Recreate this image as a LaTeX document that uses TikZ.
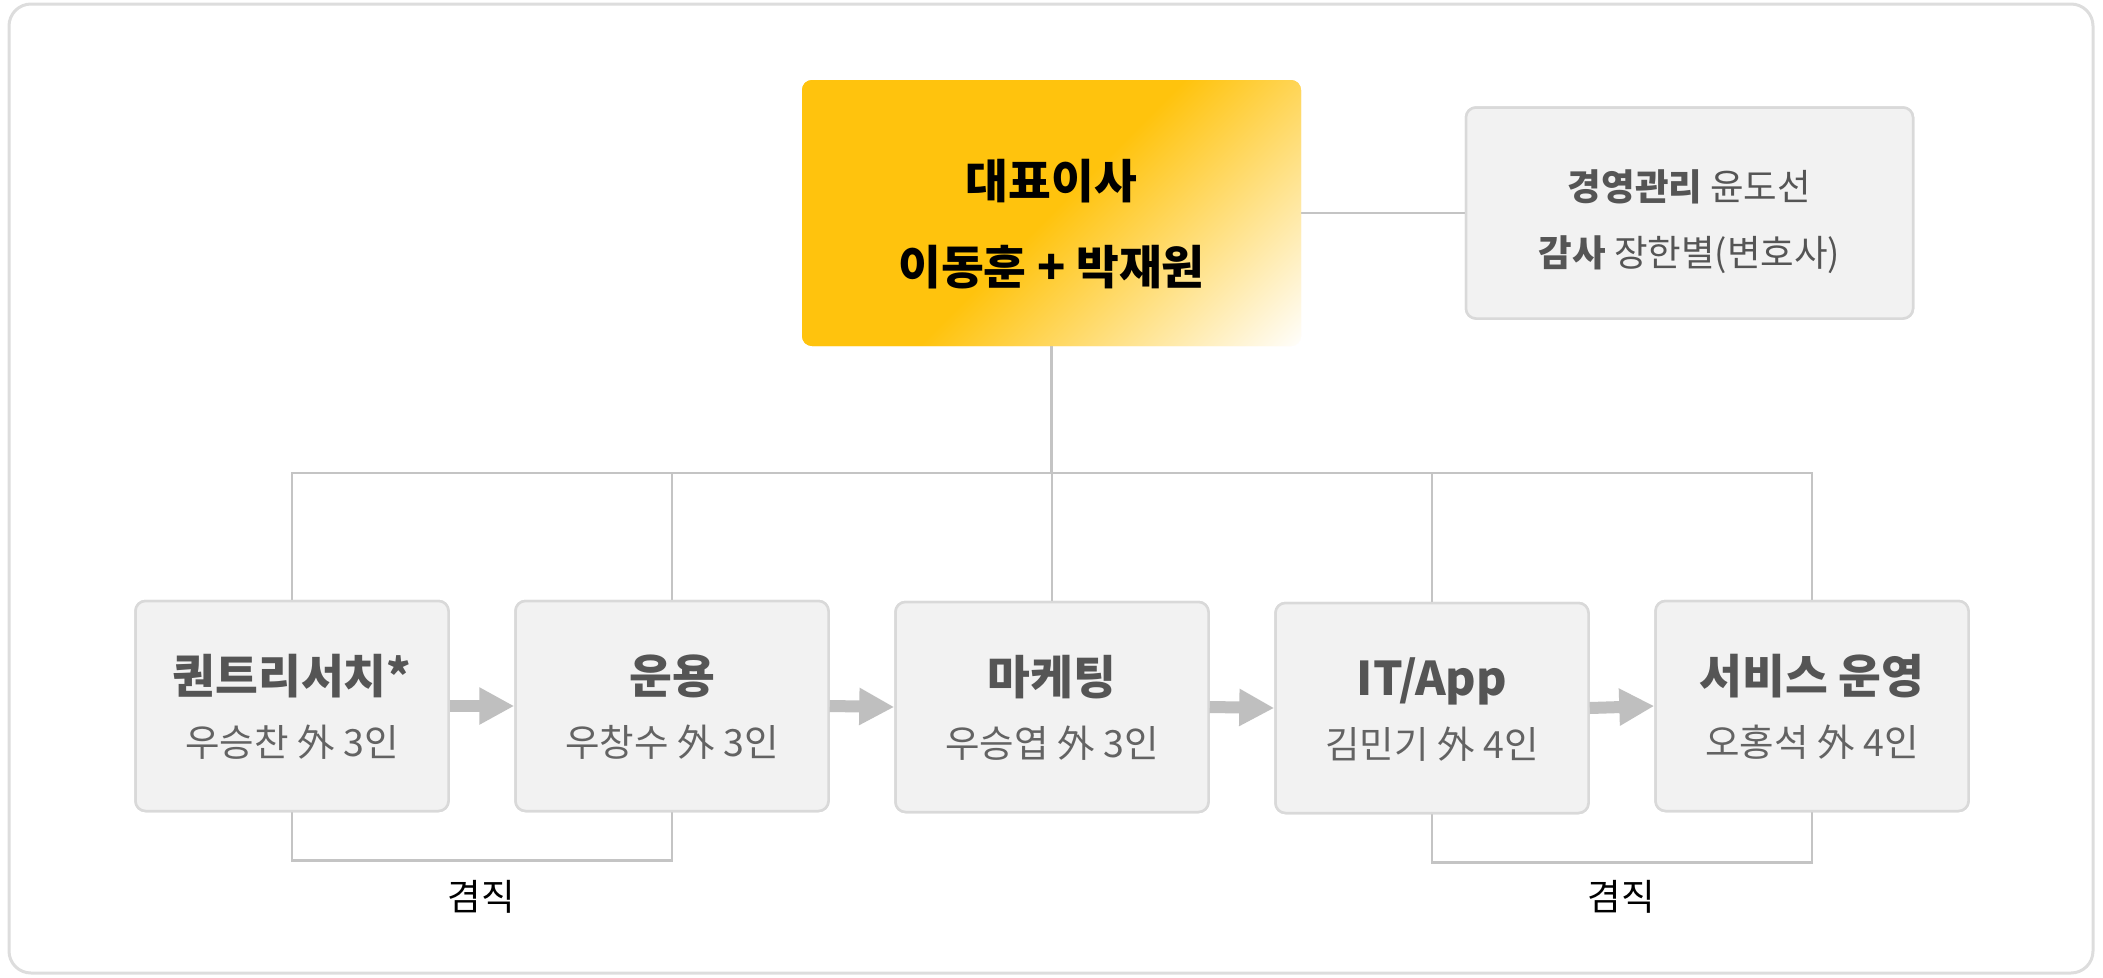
\documentclass[tikz,border=0pt]{standalone}
\usepackage{fontspec}
\setmainfont{Noto Sans CJK KR}
\usetikzlibrary{arrows.meta,calc}
\definecolor{ceoY}{HTML}{FFC30D}
\definecolor{boxfill}{HTML}{F2F2F2}
\definecolor{boxline}{HTML}{D9D9D9}
\definecolor{connc}{HTML}{C4C4C4}
\definecolor{arrc}{HTML}{BFBFBF}
\definecolor{ttl}{HTML}{555555}
\definecolor{subc}{HTML}{636363}
\definecolor{framec}{HTML}{DDDDDD}
\pgfdeclarehorizontalshading{ceoshade}{100bp}{color(0bp)=(ceoY); color(50bp)=(ceoY); color(86bp)=(white); color(100bp)=(white)}
\begin{document}
\begin{tikzpicture}[x=1pt,y=-1pt,
  ceobox/.style={rounded corners=10pt, minimum width=499pt, minimum height=266pt, inner sep=0pt, shade, shading=ceoshade, shading angle=-45},
  graybox/.style={draw=boxline, line width=2.5pt, fill=boxfill, rounded corners=10pt, inner sep=0pt},
  unitbox/.style={graybox, minimum width=313pt, minimum height=210pt},
  conn/.style={draw=connc, line width=2.5pt},
  flowarrow/.style={draw=arrc, line width=12pt, -{Triangle[length=35pt,width=35pt]}},
  ceotext/.style={anchor=base, font=\fontsize{46.5}{54}\selectfont\bfseries, text=black, inner sep=0pt},
  audtext/.style={anchor=base, font=\fontsize{36.5}{42}\selectfont, text=ttl, inner sep=0pt},
  unittitle/.style={anchor=base, font=\fontsize{46.5}{52}\selectfont\bfseries, text=ttl, inner sep=0pt},
  unitsub/.style={anchor=base, font=\fontsize{37.5}{42}\selectfont, text=subc, inner sep=0pt},
  jtext/.style={anchor=base, font=\fontsize{36.5}{42}\selectfont, text=black, inner sep=0pt}
]
\useasboundingbox (0,0) rectangle (2103,977);
\draw[draw=framec, line width=3pt, rounded corners=22pt, fill=white] (9,4) rectangle (2093,973);

% nodes (placement)
\node[ceobox] (ceo) at (1051.5,213) {};
\node[graybox, minimum width=447pt, minimum height=211pt] (aud) at (1689.5,213) {};
\node[unitbox] (b1) at (292,706) {};
\node[unitbox] (b2) at (672,706) {};
\node[unitbox] (b3) at (1052,707) {};
\node[unitbox] (b4) at (1432,708) {};
\node[unitbox] (b5) at (1812,706) {};
\coordinate (bus) at (1052,473);

% connectors
\path[conn] (ceo.east) -- (aud.west);
\foreach \b in {b1,b2,b3,b4,b5}{
  \path[conn] (ceo.south) |- (bus -| \b.north) -- (\b.north);
}
\path[conn] (b1.south) -- ++(0,48) -| (b2.south);
\path[conn] (b4.south) -- ++(0,48) -| (b5.south);

% boxes on top of connectors
\node[ceobox] at (ceo) {};
\node[graybox, minimum width=447pt, minimum height=211pt] at (aud) {};
\foreach \b in {b1,b2,b3,b4,b5}{ \node[unitbox] at (\b) {}; }

% texts
\node[ceotext] (ceo1) at ($(ceo.center)+(0,-15)$) {대표이사};
\node[ceotext] (ceo2) at ($(ceo.center)+(0,71)$) {이동훈 + 박재원};
\node[audtext] (aud1) at ($(aud.center)+(0,-12.5)$) {\textbf{경영관리} 윤도선};
\node[audtext] (aud2) at ($(aud.center)+(0,53.5)$) {\textbf{감사} 장한별(변호사)};

\node[unittitle] (t1) at ($(b1.center)+(0,-12.5)$) {퀀트리서치*};
\node[unitsub] (s1) at ($(b1.center)+(0,50)$) {우승찬 外 3인};
\node[unittitle] (t2) at ($(b2.center)+(0,-12.5)$) {운용};
\node[unitsub] (s2) at ($(b2.center)+(0,50)$) {우창수 外 3인};
\node[unittitle] (t3) at ($(b3.center)+(0,-12.5)$) {마케팅};
\node[unitsub] (s3) at ($(b3.center)+(0,50)$) {우승엽 外 3인};
\node[unittitle] (t4) at ($(b4.center)+(0,-12.5)$) {IT/App};
\node[unitsub] (s4) at ($(b4.center)+(0,50)$) {김민기 外 4인};
\node[unittitle] (t5) at ($(b5.center)+(0,-12.5)$) {서비스 운영};
\node[unitsub] (s5) at ($(b5.center)+(0,50)$) {오홍석 外 4인};

\node[jtext] (j1) at (481,910) {겸직};
\node[jtext] (j2) at (1621,910) {겸직};

% flow arrows
\path[flowarrow] (b1.east) -- (b2.west);
\path[flowarrow] (b2.east) -- (b3.west);
\path[flowarrow] (b3.east) -- (b4.west);
\path[flowarrow] (b4.east) -- (b5.west);
\end{tikzpicture}
\end{document}
